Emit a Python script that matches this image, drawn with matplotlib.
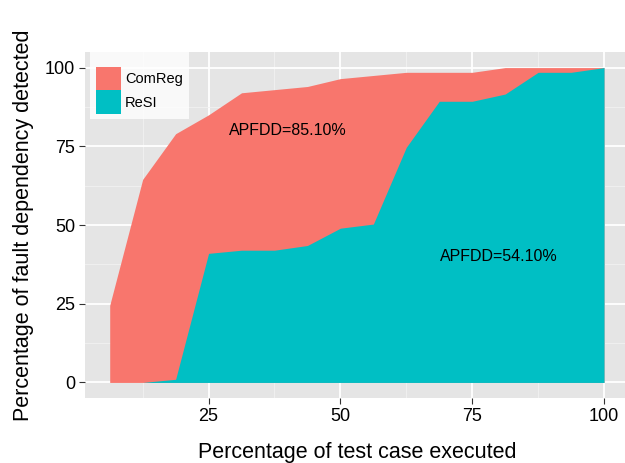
import matplotlib.pyplot as plt
from matplotlib.patches import Patch

# fraction of test cases executed (16 cases)
pct_tests = [6.25, 12.5, 18.75, 25, 31.25, 37.5, 43.75, 50,
             56.25, 62.5, 68.75, 75, 81.25, 87.5, 93.75, 100]
comreg = [24.5, 64.5, 79, 85, 92, 93, 94, 96.5,
          97.5, 98.5, 98.5, 98.5, 100, 100, 100, 100]
resi = [0, 0, 1, 41, 42, 42, 43.5, 49,
        50.3, 74.7, 89.3, 89.3, 91.6, 98.5, 98.5, 100]

series_names = ["ComReg", "ReSI"]
series_colors = ["#F8766D", "#00BFC4"]
apfdd_labels = ["APFDD=85.10%", "APFDD=54.10%"]
apfdd_pos = [(40, 80), (80, 40)]

xticks = [25, 50, 75, 100]
yticks = [0, 25, 50, 75, 100]
xminor = [12.5, 37.5, 62.5, 87.5]
yminor = [12.5, 37.5, 62.5, 87.5]

plt.rcParams['font.family'] = ['Liberation Sans', 'DejaVu Sans']

fig = plt.figure(figsize=(6.25, 4.63), dpi=100)
ax = fig.add_axes([0.136, 0.140, 0.870, 0.748])
ax.set_facecolor("#E5E5E5")

ax.fill_between(pct_tests, 0, comreg, color=series_colors[0], lw=0, zorder=3)
ax.fill_between(pct_tests, 0, resi, color=series_colors[1], lw=0, zorder=4)

for (x, y), s in zip(apfdd_pos, apfdd_labels):
    ax.text(x, y, s, ha="center", va="center", fontsize=11.5, zorder=5)

ax.set_xlim(1.5625, 104.6875)
ax.set_ylim(-5, 105)
ax.set_xticks(xticks)
ax.set_yticks(yticks)
ax.set_xticks(xminor, minor=True)
ax.set_yticks(yminor, minor=True)
ax.grid(which="major", color="white", lw=1.3, zorder=1)
ax.grid(which="minor", color="#F2F2F2", lw=0.6, zorder=1)
ax.set_axisbelow(True)
for sp in ax.spines.values():
    sp.set_visible(False)
ax.tick_params(which="major", length=4, width=0.8, color="#333333",
               labelsize=13, labelcolor="black", pad=3)
ax.tick_params(which="minor", length=0)

ax.set_xlabel("Percentage of test case executed", fontsize=15.5, labelpad=12)
ax.set_ylabel("Percentage of fault dependency detected", fontsize=15.5, labelpad=8)

# legend: blank title gives the extra space above the keys, as in ggplot
handles = [Patch(facecolor=c, edgecolor="none") for c in series_colors]
leg = ax.legend(handles, series_names, loc="upper left",
                bbox_to_anchor=(0.009, 1.0), fontsize=10.5, frameon=True,
                fancybox=False, handlelength=1.75, handleheight=2.1,
                labelspacing=0.0, handletextpad=0.25, borderpad=0.4,
                borderaxespad=0.0, title=" ", title_fontsize=6.5)
leg.get_frame().set_facecolor("white")
leg.get_frame().set_edgecolor("none")
leg.set_zorder(6)

fig.savefig("out.png", dpi=100)
